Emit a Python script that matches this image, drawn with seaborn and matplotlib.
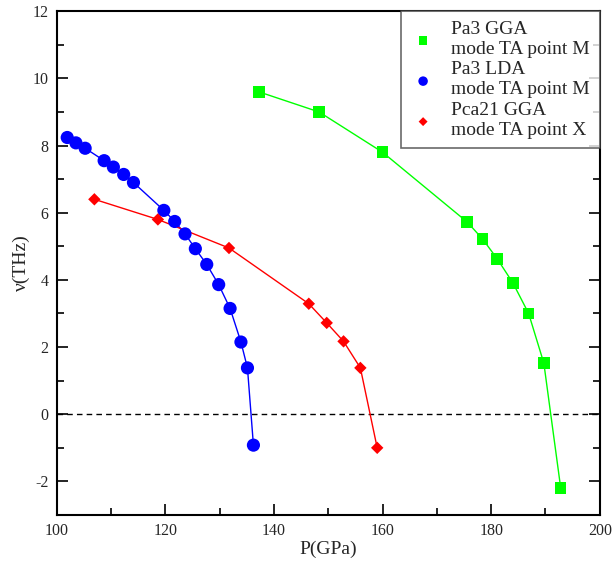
import numpy as np
import pandas as pd
import matplotlib
matplotlib.use("Agg")
import matplotlib.pyplot as plt
import seaborn as sns
from matplotlib.ticker import MultipleLocator

# ── Data ─────────────────────────────────────────────────────────────────────
gga_m_p = [137.2, 148.3, 160.0, 175.6, 178.4, 181.1, 184.0, 186.9, 189.7, 192.8]
gga_m_f = [9.60, 9.00, 7.80, 5.72, 5.22, 4.63, 3.91, 3.00, 1.52, -2.19]

lda_m_p = [101.9, 103.5, 105.2, 108.7, 110.4, 112.3, 114.1, 119.7, 121.7,
           123.6, 125.5, 127.6, 129.8, 131.9, 133.9, 135.1, 136.2]
lda_m_f = [8.24, 8.08, 7.92, 7.55, 7.36, 7.14, 6.90, 6.07, 5.74,
           5.37, 4.93, 4.46, 3.86, 3.15, 2.15, 1.38, -0.92]

pca_x_p = [106.9, 118.6, 131.7, 146.4, 149.7, 152.8, 155.9, 159.0]
pca_x_f = [6.40, 5.80, 4.95, 3.29, 2.72, 2.17, 1.38, -1.00]

labels = ["Pa3 GGA\nmode TA point M",
          "Pa3 LDA\nmode TA point M",
          "Pca21 GGA\nmode TA point X"]

# ── Styling ──────────────────────────────────────────────────────────────────
sns.set_style("ticks")
plt.rcParams["font.family"] = ["Liberation Serif", "DejaVu Serif"]
plt.rcParams["axes.unicode_minus"] = False

series = [
    (gga_m_p, gga_m_f, "#00ff00", "s", 70),
    (lda_m_p, lda_m_f, "#0000ff", "o", 90),
    (pca_x_p, pca_x_f, "#ff0000", "D", 40),
]

fig = plt.figure(figsize=(6.12, 5.61), dpi=100)
ax = fig.add_axes([0.093, 0.082, 0.887, 0.898])

for (p, f, col, mk, sz), lab in zip(series, labels):
    df = pd.DataFrame({"P": p, "nu": f})
    sns.lineplot(data=df, x="P", y="nu", sort=False, estimator=None,
                 color=col, lw=1.0, ax=ax)
    sns.scatterplot(data=df, x="P", y="nu", color=col, marker=mk, s=sz,
                    edgecolor="none", ax=ax, label=lab, zorder=3)

ax.axhline(0, color="black", ls=(0, (4, 3)), lw=1.0, zorder=1)

ax.set_xlim(100, 200)
ax.set_ylim(-3, 12)
ax.xaxis.set_major_locator(MultipleLocator(20))
ax.xaxis.set_minor_locator(MultipleLocator(10))
ax.yaxis.set_major_locator(MultipleLocator(2))
ax.yaxis.set_minor_locator(MultipleLocator(1))
ax.tick_params(which="both", direction="in", top=False, right=True,
               labelsize=11.5, width=1.2, color="black")
ax.tick_params(axis="x", which="major", length=8, pad=6)
ax.tick_params(axis="y", which="major", length=8, pad=6)
ax.tick_params(which="minor", length=5)
for s in ax.spines.values():
    s.set_linewidth(1.5)
    s.set_color("black")

ax.set_xlabel("P(GPa)", fontsize=14, labelpad=1)
ax.set_ylabel("ν(THz)", fontsize=14, labelpad=2)

leg = ax.legend(loc="upper right", fontsize=14, frameon=True, fancybox=False,
                edgecolor="#444444", borderaxespad=0, handletextpad=0.8,
                labelspacing=0.2, borderpad=0.5, markerscale=0.72,
                handlelength=1.3)
leg.get_frame().set_linewidth(1.2)

fig.savefig("out.png", dpi=100)
